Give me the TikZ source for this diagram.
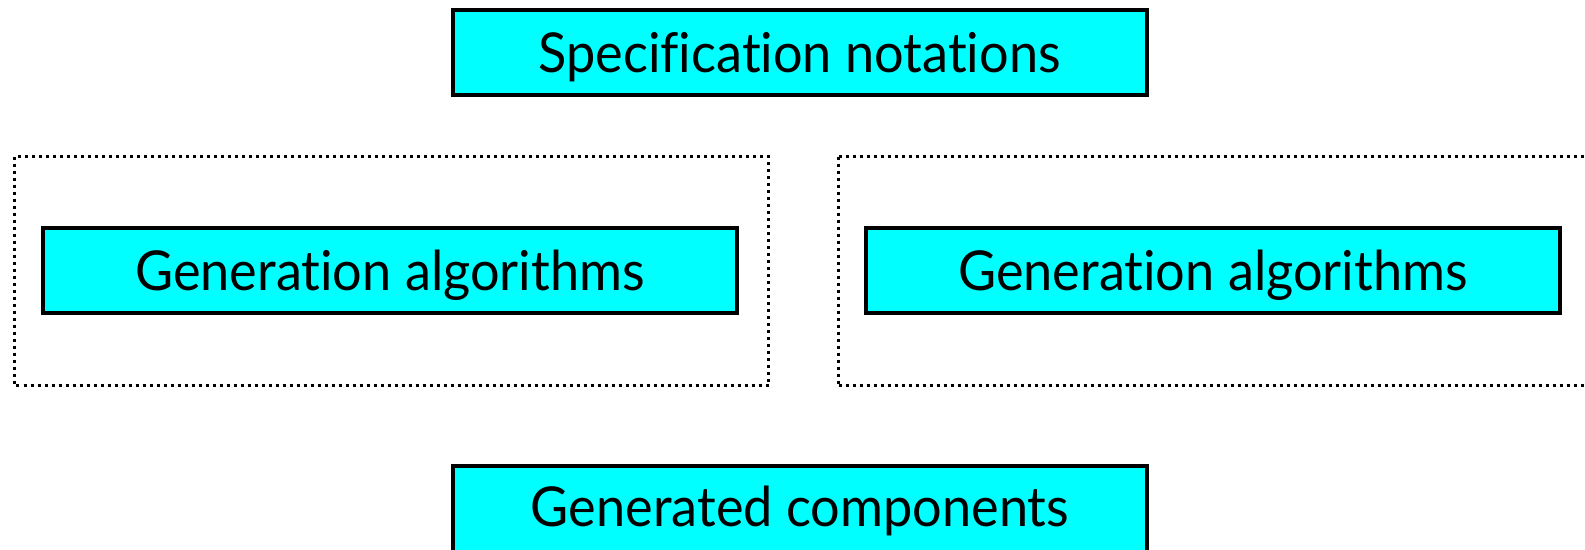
\documentclass[tikz,border=0pt]{standalone}
\usepackage{fontspec}
\setmainfont{Lato}[Ligatures=NoCommon, FakeStretch=0.95]
\definecolor{boxcyan}{RGB}{0,255,255}
\begin{document}
\begin{tikzpicture}[x=1pt,y=-1pt,
  block/.style={draw=black, line width=4pt, fill=boxcyan, rectangle,
    minimum width=694pt, minimum height=85pt, inner sep=0pt,
    text height=40pt, text depth=0pt,
    font=\fontsize{55}{60}\selectfont},
  group/.style={draw=black, line width=3pt, dash pattern=on 3pt off 4pt}]
\useasboundingbox (0,0) rectangle (1585,549);
% dotted groups around the two generation steps
\draw[group] (14.5,156.5) rectangle (768.5,385.5);
\draw[group] (838.5,156.5) -- (1600,156.5);
\draw[group] (838.5,385.5) -- (1600,385.5);
\draw[group] (838.5,156.5) -- (838.5,385.5);
% the four blocks
\node[block] (spec) at (799.5,52.5) {Specification notations};
\node[block] (genL) at (390,270) {Generation algorithms};
\node[block] (genR) at (1213,270) {Generation algorithms};
% the last block runs past the lower edge of the page
\node[block, minimum height=95pt, text depth=14pt] (comp) at (800,513) {Generated components};
\end{tikzpicture}
\end{document}
